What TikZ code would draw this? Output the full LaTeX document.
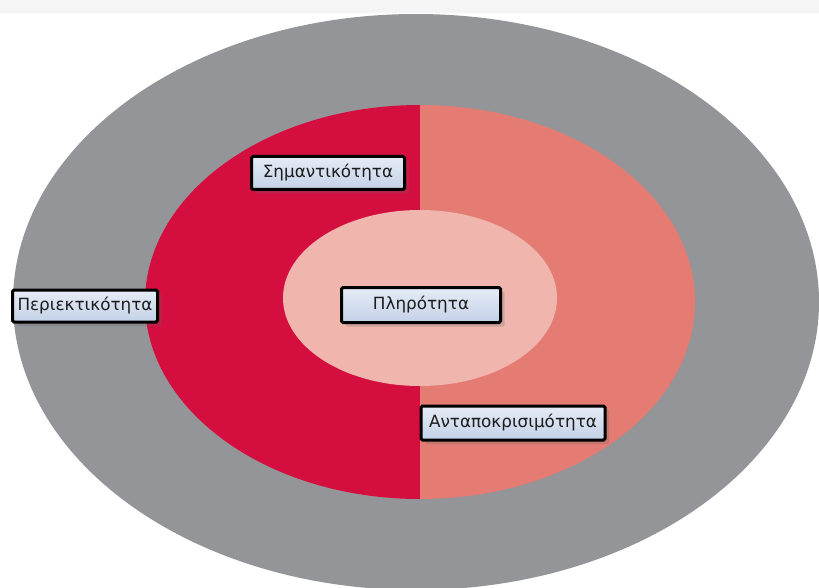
\documentclass[tikz,border=0pt]{standalone}
\usepackage{fontspec}
\setmainfont{DejaVu Sans}
\usetikzlibrary{shadows}
\definecolor{ringgray}{HTML}{939598}
\definecolor{crimson}{HTML}{D40F40}
\definecolor{salmon}{HTML}{E47C74}
\definecolor{blush}{HTML}{F0B6AD}
\definecolor{boxtop}{HTML}{E6ECF6}
\definecolor{boxbot}{HTML}{C3D1E7}
\definecolor{inkdark}{HTML}{1C1C1C}
\tikzset{
  tag/.style={draw=black, line width=3pt, rounded corners=1.5pt,
    top color=boxtop, bottom color=boxbot, text=inkdark,
    font=\fontsize{16.8}{19}\selectfont, inner sep=0pt,
    drop shadow={shadow xshift=4pt, shadow yshift=-4pt, opacity=0.25, fill=black!60}},
}
\begin{document}
\begin{tikzpicture}[x=1pt, y=-1pt]
  \useasboundingbox (0,0) rectangle (819,588);
  \fill[white] (0,0) rectangle (819,588);
  % faint strip along the top edge
  \fill[black!4] (0,0) rectangle (819,13);
  % outer grey ring
  \fill[ringgray] (416,302) ellipse [x radius=403, y radius=288];
  % middle ring, split in two halves
  \begin{scope}
    \clip (0,0) rectangle (420,588);
    \fill[crimson] (420,302) ellipse [x radius=275, y radius=197];
  \end{scope}
  \begin{scope}
    \clip (420,0) rectangle (819,588);
    \fill[salmon] (420,302) ellipse [x radius=275, y radius=197];
  \end{scope}
  % inner core
  \fill[blush] (420,298) ellipse [x radius=137, y radius=88];
  % labels
  \node[tag, minimum width=153pt, minimum height=33pt] (sim) at (328,173) {Σημαντικότητα};
  \node[tag, minimum width=145pt, minimum height=32pt] (per) at (85,306) {Περιεκτικότητα};
  \node[tag, minimum width=159pt, minimum height=35pt] (pli) at (421,305) {Πληρότητα};
  \node[tag, minimum width=184pt, minimum height=34pt] (ant) at (513,423) {Ανταποκρισιμότητα};
\end{tikzpicture}
\end{document}
